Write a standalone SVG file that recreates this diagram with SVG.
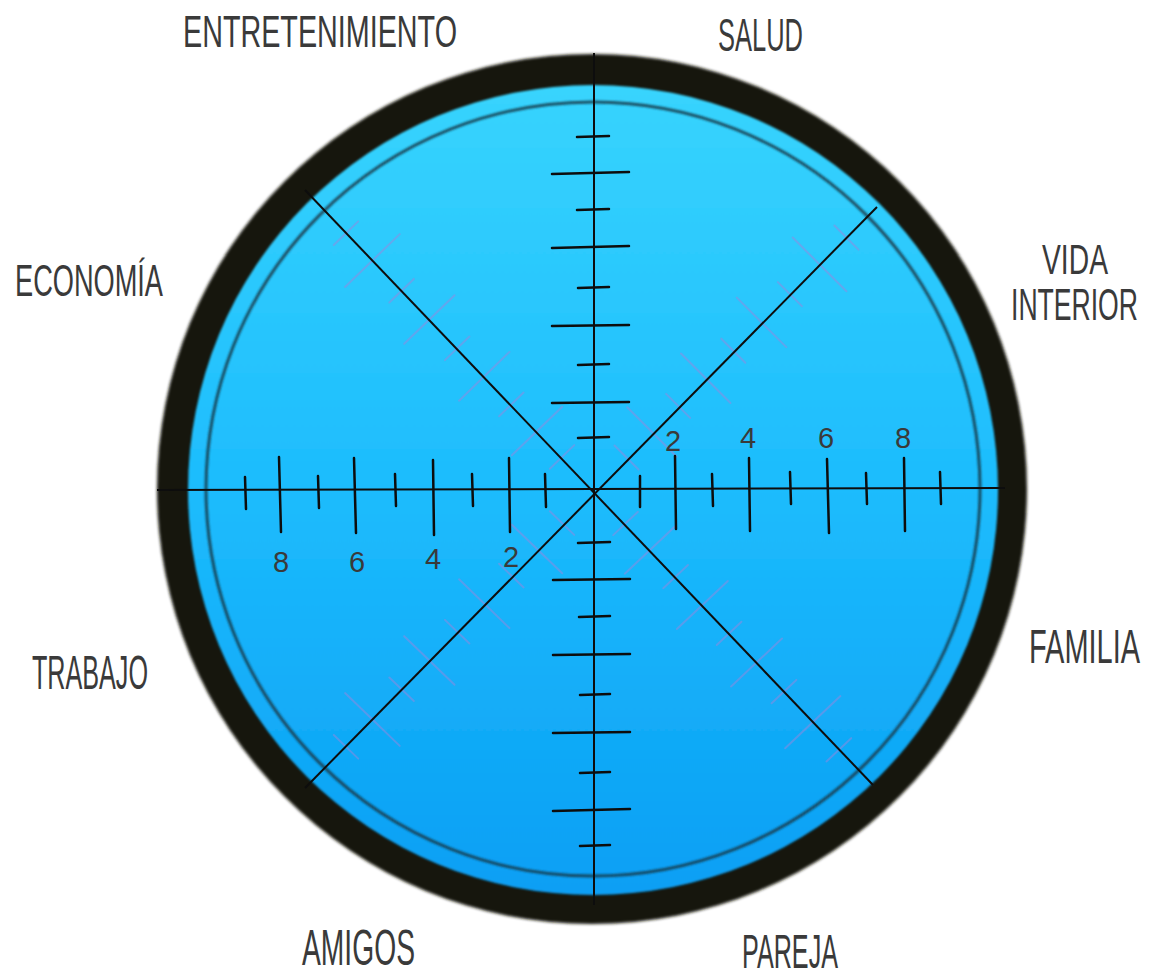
<svg xmlns="http://www.w3.org/2000/svg" xmlns:xlink="http://www.w3.org/1999/xlink" width="1153" height="976" viewBox="0 0 1153 976">
<defs>
<style>
.lbl{font-family:'Liberation Sans Narrow','Liberation Sans',Arial,sans-serif;fill:#3a3a3a;}
.end{text-anchor:end;}
.num{font-family:'Liberation Sans',Arial,sans-serif;font-size:29px;fill:#3a3a3a;text-anchor:middle;}
.ax{stroke:#0d0d0d;stroke-width:2;fill:none;}
.tk{stroke:#0d0d0d;stroke-width:2.5;stroke-linecap:round;fill:none;}
.ghost{stroke:#9a86de;stroke-opacity:0.5;stroke-width:2;stroke-linecap:round;}
</style>
<linearGradient id="blue" x1="0" y1="84" x2="0" y2="895" gradientUnits="userSpaceOnUse">
<stop offset="0" stop-color="#38d4fd"/>
<stop offset="0.5" stop-color="#1dbcfd"/>
<stop offset="1" stop-color="#0a9ff4"/>
</linearGradient>
<filter id="soft" x="-5%" y="-5%" width="110%" height="110%"><feGaussianBlur stdDeviation="1.6"/></filter>
<filter id="soft2" x="-5%" y="-5%" width="110%" height="110%"><feGaussianBlur stdDeviation="0.9"/></filter>
<g id="dticks" class="ghost">
<line x1="46" y1="-17" x2="46" y2="17"/>
<line x1="82" y1="-35" x2="82" y2="35"/>
<line x1="119" y1="-17" x2="119" y2="17"/>
<line x1="158" y1="-35" x2="158" y2="35"/>
<line x1="197" y1="-17" x2="197" y2="17"/>
<line x1="237" y1="-35" x2="237" y2="35"/>
<line x1="277" y1="-17" x2="277" y2="17"/>
<line x1="319" y1="-38" x2="319" y2="38"/>
<line x1="357" y1="-17" x2="357" y2="17"/>
</g>
</defs>
<rect width="1153" height="976" fill="#ffffff"/>
<g id="scope">
<circle cx="592" cy="489" r="435" fill="#15140f" filter="url(#soft)"/>
<circle cx="593" cy="490" r="405" fill="url(#blue)" filter="url(#soft2)"/>
<circle cx="593" cy="489" r="387" fill="none" stroke="#183848" stroke-opacity="0.85" stroke-width="3" filter="url(#soft2)"/>
</g>
<g id="ghost-ticks">
<use xlink:href="#dticks" transform="translate(594 490) rotate(-134)"/>
<use xlink:href="#dticks" transform="translate(594 490) rotate(-45)"/>
<use xlink:href="#dticks" transform="translate(594 490) rotate(46.7)"/>
<use xlink:href="#dticks" transform="translate(594 490) rotate(134)"/>
</g>
<g id="connectors">
<line class="ax" x1="594" y1="53" x2="594" y2="905"/>
<line class="ax" x1="157" y1="490" x2="1005" y2="488"/>
<line class="ax" x1="305" y1="190" x2="873" y2="785"/>
<line class="ax" x1="877" y1="207" x2="305" y2="788"/>
</g>
<g id="v-ticks">
<line class="tk" x1="577" y1="137" x2="609" y2="136"/>
<line class="tk" x1="552" y1="174" x2="629" y2="172"/>
<line class="tk" x1="577" y1="210" x2="609" y2="209"/>
<line class="tk" x1="552" y1="248" x2="629" y2="246"/>
<line class="tk" x1="578" y1="288" x2="609" y2="287"/>
<line class="tk" x1="552" y1="326" x2="629" y2="325"/>
<line class="tk" x1="578" y1="365" x2="609" y2="364"/>
<line class="tk" x1="552" y1="403" x2="629" y2="402"/>
<line class="tk" x1="578" y1="438" x2="609" y2="437"/>
<line class="tk" x1="578" y1="543" x2="610" y2="542"/>
<line class="tk" x1="553" y1="580" x2="630" y2="579"/>
<line class="tk" x1="579" y1="617" x2="610" y2="616"/>
<line class="tk" x1="553" y1="655" x2="630" y2="654"/>
<line class="tk" x1="580" y1="695" x2="610" y2="694"/>
<line class="tk" x1="553" y1="733" x2="630" y2="732"/>
<line class="tk" x1="580" y1="773" x2="610" y2="772"/>
<line class="tk" x1="553" y1="811" x2="630" y2="809"/>
<line class="tk" x1="580" y1="846" x2="610" y2="845"/>
</g>
<g id="h-ticks">
<line class="tk" x1="245" y1="477" x2="246" y2="509"/>
<line class="tk" x1="279" y1="457" x2="281" y2="532"/>
<line class="tk" x1="318" y1="476" x2="319" y2="508"/>
<line class="tk" x1="354" y1="458" x2="356" y2="533"/>
<line class="tk" x1="395" y1="474" x2="396" y2="506"/>
<line class="tk" x1="433" y1="460" x2="434" y2="535"/>
<line class="tk" x1="472" y1="474" x2="473" y2="506"/>
<line class="tk" x1="509" y1="458" x2="510" y2="532"/>
<line class="tk" x1="545" y1="474" x2="546" y2="507"/>
<line class="tk" x1="640" y1="476" x2="640" y2="507"/>
<line class="tk" x1="675" y1="456" x2="676" y2="529"/>
<line class="tk" x1="712" y1="474" x2="713" y2="506"/>
<line class="tk" x1="749" y1="458" x2="750" y2="531"/>
<line class="tk" x1="790" y1="472" x2="791" y2="504"/>
<line class="tk" x1="827" y1="459" x2="829" y2="533"/>
<line class="tk" x1="866" y1="473" x2="867" y2="504"/>
<line class="tk" x1="904" y1="458" x2="905" y2="531"/>
<line class="tk" x1="940" y1="472" x2="941" y2="504"/>
</g>
<g id="numbers">
<text class="num" x="281" y="572">8</text>
<text class="num" x="357" y="572">6</text>
<text class="num" x="433" y="569">4</text>
<text class="num" x="511" y="567">2</text>
<text class="num" x="673" y="451">2</text>
<text class="num" x="748" y="448">4</text>
<text class="num" x="826" y="448">6</text>
<text class="num" x="903" y="448">8</text>
</g>
<g id="label-entretenimiento"><text class="lbl" x="183" y="47" font-size="45" textLength="274" lengthAdjust="spacingAndGlyphs">ENTRETENIMIENTO</text></g>
<g id="label-salud"><text class="lbl" x="718" y="51" font-size="47" textLength="85" lengthAdjust="spacingAndGlyphs">SALUD</text></g>
<g id="label-vida-interior">
<text class="lbl end" x="1108" y="274" font-size="42" textLength="66" lengthAdjust="spacingAndGlyphs">VIDA</text>
<text class="lbl end" x="1138" y="320" font-size="44" textLength="127" lengthAdjust="spacingAndGlyphs">INTERIOR</text>
</g>
<g id="label-economia"><text class="lbl" x="15" y="296" font-size="45" textLength="148" lengthAdjust="spacingAndGlyphs">ECONOMÍA</text></g>
<g id="label-trabajo"><text class="lbl" x="32" y="689" font-size="48" textLength="116" lengthAdjust="spacingAndGlyphs">TRABAJO</text></g>
<g id="label-familia"><text class="lbl end" x="1140" y="663" font-size="48" textLength="111" lengthAdjust="spacingAndGlyphs">FAMILIA</text></g>
<g id="label-amigos"><text class="lbl" x="302" y="965" font-size="50" textLength="113" lengthAdjust="spacingAndGlyphs">AMIGOS</text></g>
<g id="label-pareja"><text class="lbl" x="742" y="968" font-size="48" textLength="96" lengthAdjust="spacingAndGlyphs">PAREJA</text></g>
</svg>
